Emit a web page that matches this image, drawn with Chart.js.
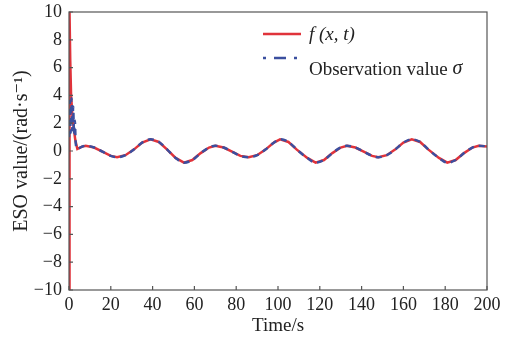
<!DOCTYPE html>
<html>
<head>
<meta charset="utf-8">
<script src="https://cdn.jsdelivr.net/npm/chart.js@4"></script>
<style>
  html, body { margin: 0; padding: 0; background: #fff; }
  #wrap { width: 512px; height: 342px; }
</style>
</head>
<body>
<div id="wrap"><canvas id="esoChart" width="512" height="342"></canvas></div>
<script>
// transient part of f(x,t) near t = 0
const redStartT = [0, 0.25, 0.6, 1.0, 1.6, 2.3, 3.0];
const redStartV = [-10, 10, 6.5, 4.0, 2.6, 1.6, 0.8];

// transient part of the observation near t = 0
const blueStartT = [0, 0.4, 0.8, 1.2, 1.6, 2.0, 2.4, 2.8, 3.2];
const blueStartV = [1.0, 3.6, 1.3, 3.8, 1.5, 3.2, 1.2, 2.2, 0.6];

// steady oscillation shared by both curves
const commonT = [4, 6, 8, 12, 16, 20, 23, 27, 31, 35, 39, 43, 47, 51, 55, 59, 63, 67, 70,
                 74, 78, 82, 86, 90, 94, 98, 101, 105, 109, 114, 118, 122, 126, 130, 133,
                 137, 141, 145, 148, 152, 156, 160, 164, 168, 172, 177, 181, 185, 189, 193, 196, 200];
const commonV = [0.15, 0.3, 0.38, 0.25, -0.05, -0.35, -0.45, -0.3, 0.1, 0.6, 0.84, 0.65, 0.1, -0.5, -0.84, -0.65, -0.15, 0.25, 0.38,
                 0.25, -0.05, -0.35, -0.45, -0.3, 0.1, 0.6, 0.84, 0.65, 0.1, -0.5, -0.84, -0.65, -0.15, 0.25, 0.38,
                 0.25, -0.05, -0.35, -0.45, -0.3, 0.1, 0.6, 0.84, 0.65, 0.1, -0.5, -0.84, -0.65, -0.15, 0.25, 0.38, 0.33];

const xTicks = [0, 20, 40, 60, 80, 100, 120, 140, 160, 180, 200];
const yTicks = [-10, -8, -6, -4, -2, 0, 2, 4, 6, 8, 10];

const toPts = (ts, vs) => ts.map((t, i) => ({ x: t, y: vs[i] }));
const redData = toPts(redStartT, redStartV).concat(toPts(commonT, commonV));
const blueData = toPts(blueStartT, blueStartV).concat(toPts(commonT, commonV));

const RED = "#e0333b";
const BLUE = "#3b4f9f";
const SERIF = "'Liberation Serif', 'DejaVu Serif', serif";

// frame, inward ticks and in-plot legend
const framePlugin = {
    id: "frame",
    afterDatasetsDraw(chart) {
        const { ctx, chartArea: a, scales } = chart;
        ctx.save();
        ctx.strokeStyle = "#555";
        ctx.lineWidth = 1.2;
        ctx.strokeRect(a.left, a.top, a.right - a.left, a.bottom - a.top);
        ctx.beginPath();
        xTicks.forEach(v => {
            const px = scales.x.getPixelForValue(v);
            ctx.moveTo(px, a.bottom);
            ctx.lineTo(px, a.bottom - 4);
        });
        yTicks.forEach(v => {
            const py = scales.y.getPixelForValue(v);
            ctx.moveTo(a.left, py);
            ctx.lineTo(a.left + 4, py);
        });
        ctx.stroke();

        // legend
        ctx.lineWidth = 2.5;
        ctx.strokeStyle = RED;
        ctx.beginPath();
        ctx.moveTo(263, 34);
        ctx.lineTo(301, 34);
        ctx.stroke();
        ctx.strokeStyle = BLUE;
        ctx.setLineDash([3, 8, 12, 8]);
        ctx.beginPath();
        ctx.moveTo(263, 58);
        ctx.lineTo(303, 58);
        ctx.stroke();
        ctx.setLineDash([]);

        ctx.fillStyle = "#222";
        ctx.textBaseline = "middle";
        ctx.textAlign = "left";
        ctx.font = "italic 19px " + SERIF;
        ctx.fillText("f (x, t)", 309, 35);
        ctx.font = "19px " + SERIF;
        const lbl = "Observation value ";
        ctx.fillText(lbl, 309, 70);
        const w = ctx.measureText(lbl).width;
        ctx.font = "italic 20px " + SERIF;
        ctx.fillText("σ", 309 + w, 69);
        ctx.restore();
    }
};

new Chart(document.getElementById("esoChart"), {
    type: "line",
    data: {
        datasets: [
            {
                label: "Observation value σ",
                data: blueData,
                borderColor: BLUE,
                borderWidth: 2.5,
                borderDash: [6, 5],
                pointRadius: 0,
                cubicInterpolationMode: "monotone",
                fill: false,
                order: 0
            },
            {
                label: "f (x, t)",
                data: redData,
                borderColor: RED,
                borderWidth: 2.5,
                pointRadius: 0,
                tension: 0,
                fill: false,
                order: 1
            }
        ]
    },
    options: {
        responsive: false,
        animation: false,
        layout: {
            padding: { top: 12, right: 25, left: 0, bottom: 0 }
        },
        plugins: {
            legend: { display: false },
            tooltip: { enabled: false }
        },
        scales: {
            x: {
                type: "linear",
                min: 0,
                max: 200,
                afterBuildTicks: s => { s.ticks = xTicks.map(v => ({ value: v })); },
                afterFit: s => { s.height = 52; },
                grid: { display: false },
                border: { display: false },
                ticks: {
                    color: "#222",
                    padding: -4,
                    maxRotation: 0,
                    font: { family: SERIF, size: 18 }
                },
                title: {
                    display: true,
                    text: "Time/s",
                    color: "#222",
                    padding: { top: 0, bottom: 5 },
                    font: { family: SERIF, size: 19 }
                }
            },
            y: {
                min: -10,
                max: 10,
                afterBuildTicks: s => { s.ticks = yTicks.map(v => ({ value: v })); },
                afterFit: s => { s.width = 69; },
                grid: { display: false },
                border: { display: false },
                ticks: {
                    color: "#222",
                    padding: -1,
                    font: { family: SERIF, size: 18 },
                    callback: v => String(v).replace("-", "\u2212")
                },
                title: {
                    display: true,
                    text: "ESO value/(rad·s\u207B\u00B9)",
                    color: "#222",
                    padding: { top: 10, bottom: 0 },
                    font: { family: SERIF, size: 20 }
                }
            }
        }
    },
    plugins: [framePlugin]
});
</script>
</body>
</html>
